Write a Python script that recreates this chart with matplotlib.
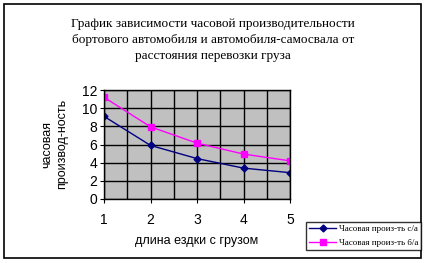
import matplotlib.pyplot as plt
from matplotlib.patches import Rectangle
from matplotlib.ticker import MultipleLocator

# data
distance = [1, 2, 3, 4, 5]
prod_sa = [9.1, 5.9, 4.45, 3.4, 2.9]
prod_ba = [11.2, 7.95, 6.15, 4.95, 4.2]
label_sa = "Часовая произ-ть с/а"
label_ba = "Часовая произ-ть б/а"
title = ("График зависимости часовой производительности\n"
         "бортового автомобиля и автомобиля-самосвала от\n"
         "расстояния перевозки груза")

W, H = 426, 263
fig = plt.figure(figsize=(W / 100, H / 100), dpi=100)

# outer chart border
fig.patches.append(Rectangle((4 / W, 1 - 258 / H), 417 / W, 254 / H,
                             transform=fig.transFigure, fill=False,
                             edgecolor='black', linewidth=1.2))

fig.text(213 / W, 1 - 40 / H, title, ha='center', va='center',
         family='Liberation Serif', fontsize=9.5, linespacing=1.45)

ax = fig.add_axes([104 / W, 1 - 199 / H, 186 / W, 109 / H])
ax.set_facecolor('#C0C0C0')
ax.plot(distance, prod_sa, '-D', color='#000080', markersize=3.5,
        linewidth=1, label=label_sa)
ax.plot(distance, prod_ba, '-s', color='#FF00FF', markersize=4,
        linewidth=1, label=label_ba)

ax.set_xlim(1, 5)
ax.set_ylim(0, 12)
ax.xaxis.set_major_locator(MultipleLocator(1))
ax.xaxis.set_minor_locator(MultipleLocator(0.5))
ax.yaxis.set_major_locator(MultipleLocator(2))
ax.grid(True, which='both', axis='x', color='black', linewidth=1)
ax.grid(True, which='major', axis='y', color='black', linewidth=1)
ax.set_axisbelow(True)
ax.tick_params(axis='both', which='major', direction='out', length=3,
               labelsize=10, labelfontfamily='Liberation Sans', pad=2)
ax.tick_params(axis='x', which='major', pad=7)
ax.tick_params(axis='x', which='minor', length=0)
for s in ax.spines.values():
    s.set_color('black')
    s.set_linewidth(1)

fig.text(197 / W, 1 - 241 / H, "длина ездки с грузом", ha='center',
         va='center', family='Liberation Sans', fontsize=9)
fig.text(55 / W, 1 - 144 / H, "часовая\nпроизвод-ность", ha='center',
         va='center', rotation=90, family='Liberation Sans', fontsize=9,
         linespacing=1.3)

leg = fig.legend(loc='upper left', bbox_to_anchor=(306 / W, 1 - 222 / H),
                 prop={'family': 'Liberation Serif', 'size': 6.5},
                 frameon=True, fancybox=False, edgecolor='black',
                 borderpad=0.35, handlelength=3, handletextpad=0.3,
                 labelspacing=0.6, borderaxespad=0)
leg.get_frame().set_linewidth(1)

fig.savefig('out.png', dpi=100)
